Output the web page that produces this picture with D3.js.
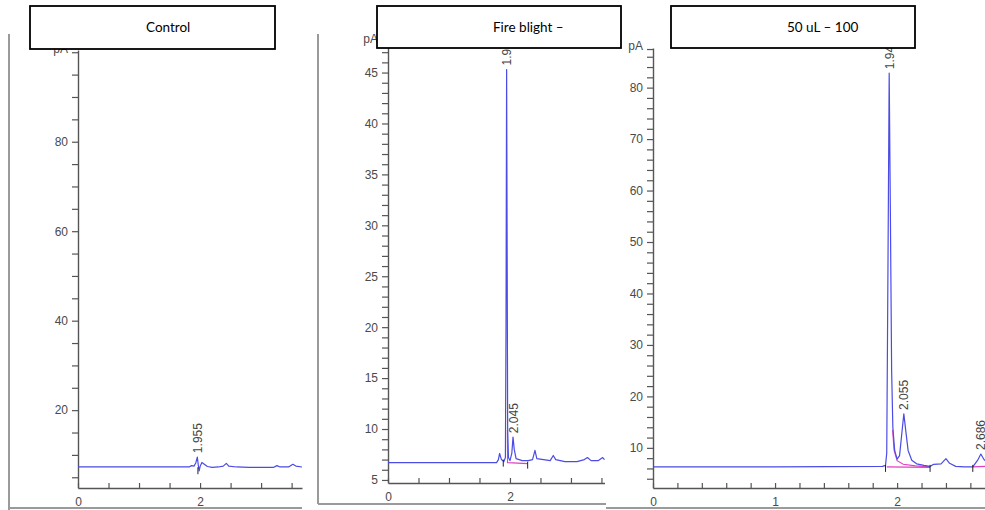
<!doctype html>
<html>
<head>
  <meta charset="utf-8">
  <title>Chromatograms</title>
  <style>
  body { margin: 0; background: #fff; }
  svg { display: block; }
  .tick text { font-family: "Liberation Sans", Arial, sans-serif; font-size: 12px; fill: #4a4a4a; }
  .peak-label { font-family: "Liberation Sans", Arial, sans-serif; font-size: 12px; fill: #444; }
  .title { font-family: Lato, "Open Sans", sans-serif; font-size: 13.5px; fill: #000; }
  </style>
</head>
<body>
  <div id="vis"></div>

  <script src="https://d3js.org/d3.v7.min.js"></script>
  <script>
  var width = 985;
  var height = 510;

  // panel titles
  var panelTitles = ['Control', 'Fire blight \u2013', '50 uL \u2013 100'];

  // traces: [retention time (min), signal (pA)]
  var controlTrace = [[0,7.3],[0.5,7.3],[1.0,7.3],[1.5,7.3],[1.82,7.3],[1.86,7.6],[1.9,7.5],[1.93,8.2],
    [1.955,9.5],[1.97,7.8],[1.985,6.4],[2.0,7.4],[2.03,8.3],[2.07,7.9],[2.12,7.4],[2.2,7.2],[2.3,7.3],
    [2.38,7.5],[2.43,8.1],[2.47,7.5],[2.6,7.3],[2.8,7.2],[3.0,7.2],[3.2,7.2],[3.26,7.6],[3.31,7.3],
    [3.45,7.3],[3.52,7.9],[3.57,7.5],[3.67,7.3]];
  var blightTrace = [[0,6.7],[1.0,6.7],[1.78,6.7],[1.81,7.0],[1.83,7.6],[1.86,7.0],[1.9,6.8],[1.925,7.2],
    [1.935,20],[1.945,45.3],[1.955,25],[1.962,10],[1.975,7.2],[2.0,6.9],[2.03,7.6],[2.05,9.2],[2.07,8.0],
    [2.1,7.1],[2.2,6.9],[2.3,6.9],[2.37,7.0],[2.41,7.9],[2.44,7.1],[2.55,7.0],[2.66,6.9],[2.71,7.4],
    [2.75,7.0],[2.9,6.8],[3.1,6.8],[3.22,7.0],[3.27,7.2],[3.33,6.9],[3.45,6.9],[3.52,7.2],[3.55,7.0]];
  var doseTrace = [[0,6.3],[1.0,6.3],[1.88,6.4],[1.905,6.6],[1.915,9],[1.925,45],[1.935,82.8],[1.945,55],
    [1.955,25],[1.965,14],[1.98,9.5],[2.0,7.8],[2.02,8.5],[2.035,12],[2.055,16.6],[2.07,13.5],[2.09,9.5],
    [2.12,7.6],[2.16,6.9],[2.22,6.6],[2.27,6.4],[2.3,6.8],[2.36,6.9],[2.4,7.9],[2.43,7.0],[2.48,6.4],
    [2.55,6.3],[2.62,6.3],[2.66,7.6],[2.686,8.8],[2.71,7.8],[2.72,7.5]];

  // integrated peaks (label = retention time)
  var controlPeaks = ['1.955'];
  var blightPeaks = ['1.945', '2.045'];
  var dosePeaks = ['1.943', '2.055', '2.686'];

  // integration baselines (magenta) and start/stop marks
  var controlBaselines = [];
  var blightBaselines = [[[1.958,9.9],[1.96,6.7],[2.29,6.6]]];
  var doseBaselines = [[[1.915,6.3],[2.27,6.2]],
    [[1.963,13.5],[1.975,9.5],[2.0,7.5],[2.05,6.8],[2.15,6.5],[2.27,6.3]],
    [[2.62,6.3],[2.72,6.4]]];
  var controlMarks = [[1.965,6.8]];
  var blightMarks = [[1.89,6.8],[2.29,6.6]];
  var doseMarks = [[1.905,6.3],[2.27,6.3],[2.62,6.3]];

  // axis labelling
  var controlYLabels = [20, 40, 60, 80];
  var blightYLabels = [5, 10, 15, 20, 25, 30, 35, 40, 45];
  var doseYLabels = [10, 20, 30, 40, 50, 60, 70, 80];
  var controlXLabels = [0, 2];
  var blightXLabels = [0, 2];
  var doseXLabels = [0, 1, 2];

  var panels = [
    { title: panelTitles[0], trace: controlTrace, peaks: controlPeaks, baselines: controlBaselines,
      marks: controlMarks, yLabels: controlYLabels, xLabels: controlXLabels,
      xRange: [78, 302], xDom: [0, 3.67], yRange: [488, 50], yDom: [2.6, 100.5],
      xStep: 0.5, yStep: 5, yTop: 100, box: [30, 6, 245, 43],
      frame: [[9, 34, 9, 510], [9, 508, 302, 508]] },
    { title: panelTitles[1], trace: blightTrace, peaks: blightPeaks, baselines: blightBaselines,
      marks: blightMarks, yLabels: blightYLabels, xLabels: blightXLabels,
      xRange: [388, 604.5], xDom: [0, 3.55], yRange: [483, 42], yDom: [4.7, 48],
      xStep: 0.5, yStep: 1, yTop: 48, box: [377, 6, 244, 42],
      frame: [[318, 34, 318, 504], [318, 504, 606, 504]] },
    { title: panelTitles[2], trace: doseTrace, peaks: dosePeaks, baselines: doseBaselines,
      marks: doseMarks, yLabels: doseYLabels, xLabels: doseXLabels,
      xRange: [653, 985], xDom: [0, 2.72], yRange: [488, 48], yDom: [2.2, 87.7],
      xStep: 0.2, yStep: 2, yTop: 87.5, box: [671, 6, 244, 42],
      frame: [[606, 508, 985, 508]] }
  ];

  var svg = d3.select('#vis')
    .append('svg')
    .attr('width', width)
    .attr('height', height);

  panels.forEach(function(p){
    var x = d3.scaleLinear().domain(p.xDom).range(p.xRange);
    var y = d3.scaleLinear().domain(p.yDom).range(p.yRange);
    var g = svg.append('g');

    // outer frame lines
    p.frame.forEach(function(f){
      g.append('line')
        .attr('x1', f[0]).attr('y1', f[1]).attr('x2', f[2]).attr('y2', f[3])
        .attr('stroke', '#9a9a9a').attr('stroke-width', 2);
    });

    // y axis: minor ticks every step, labels on the major ones, "pA" at top
    var yTicks = d3.range(Math.ceil(p.yDom[0] / p.yStep) * p.yStep, p.yDom[1], p.yStep)
      .map(function(v){ return +v.toFixed(3); });
    if (yTicks.indexOf(p.yTop) == -1) yTicks.push(p.yTop);
    var yAxis = d3.axisLeft(y)
      .tickValues(yTicks)
      .tickSizeInner(6).tickSizeOuter(0).tickPadding(4)
      .tickFormat(function(d){
        if (d === p.yTop) return 'pA';
        return p.yLabels.indexOf(d) != -1 ? d : '';
      });
    var ya = g.append('g')
      .attr('transform', 'translate(' + p.xRange[0] + ',0)')
      .call(yAxis);
    ya.selectAll('.tick text')
      .filter(function(d){ return d === p.yTop; })
      .attr('dy', '0.05em');

    // x axis: ticks pointing up
    var xTicks = d3.range(0, p.xDom[1] + 1e-6, p.xStep).map(function(v){ return +v.toFixed(3); });
    var xAxis = d3.axisBottom(x)
      .tickValues(xTicks)
      .tickSizeInner(-5).tickSizeOuter(0).tickPadding(9)
      .tickFormat(function(d){ return p.xLabels.indexOf(d) != -1 ? d : ''; });
    var xa = g.append('g')
      .attr('transform', 'translate(0,' + p.yRange[0] + ')')
      .call(xAxis);

    [ya, xa].forEach(function(a){
      a.select('.domain').attr('stroke', '#555').attr('stroke-width', 1.4);
      a.selectAll('.tick line').attr('stroke', '#555').attr('stroke-width', 1.2);
    });

    // integration baselines
    var line = d3.line()
      .x(function(d){ return x(d[0]); })
      .y(function(d){ return y(d[1]); });

    p.baselines.forEach(function(b){
      g.append('path').datum(b)
        .attr('d', line)
        .attr('fill', 'none')
        .attr('stroke', '#e040c0')
        .attr('stroke-width', 1.1);
    });

    // trace
    g.append('path').datum(p.trace)
      .attr('d', line)
      .attr('fill', 'none')
      .attr('stroke', '#4b4be6')
      .attr('stroke-width', 1.2)
      .attr('stroke-linejoin', 'round');

    // start/stop marks
    g.selectAll('.mark').data(p.marks).enter().append('line')
      .attr('x1', function(d){ return x(d[0]); })
      .attr('x2', function(d){ return x(d[0]); })
      .attr('y1', function(d){ return y(d[1]) - 2; })
      .attr('y2', function(d){ return y(d[1]) + 5; })
      .attr('stroke', '#222').attr('stroke-width', 1);

    // peak labels, rotated, just above each apex
    p.peaks.forEach(function(label){
      var rt = +label;
      var near = p.trace.filter(function(d){ return Math.abs(d[0] - rt) <= 0.025; });
      var apex = d3.greatest(near, function(d){ return d[1]; });
      var px = x(apex[0]), py = y(apex[1]) - 4;
      g.append('text')
        .attr('class', 'peak-label')
        .attr('transform', 'translate(' + (px + 4.5) + ',' + py + ') rotate(-90)')
        .text(label);
    });
  });

  // title boxes on top of everything
  var boxLayer = svg.append('g');
  panels.forEach(function(p){
    var b = p.box;
    boxLayer.append('rect')
      .attr('x', b[0]).attr('y', b[1]).attr('width', b[2]).attr('height', b[3])
      .attr('fill', '#fff').attr('stroke', '#000').attr('stroke-width', 1.8);
    boxLayer.append('text')
      .attr('class', 'title')
      .attr('x', b[0] + 116)
      .attr('y', b[1] + 26)
      .text(p.title);
  });
  </script>
</body>
</html>
